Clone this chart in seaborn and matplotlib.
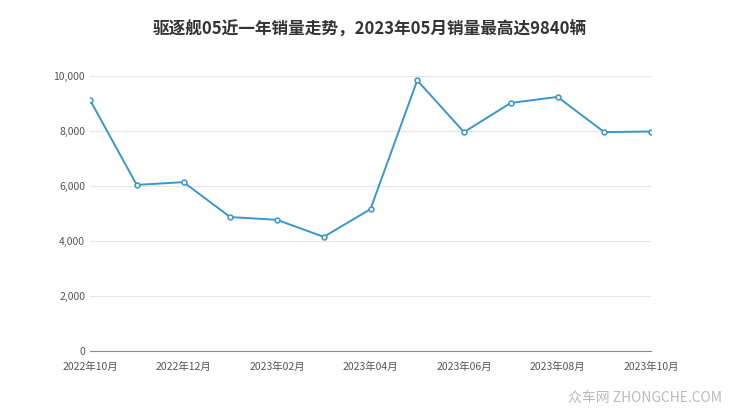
import matplotlib
matplotlib.use('Agg')
import matplotlib.pyplot as plt
import seaborn as sns
import pandas as pd
from matplotlib.ticker import StrMethodFormatter

months = ['2022年10月', '2022年11月', '2022年12月', '2023年01月', '2023年02月', '2023年03月',
          '2023年04月', '2023年05月', '2023年06月', '2023年07月', '2023年08月', '2023年09月', '2023年10月']
sales = [9130, 6040, 6140, 4870, 4770, 4150, 5160, 9840, 7960, 9020, 9240, 7960, 7980]

df = pd.DataFrame({'x': range(len(months)), 'sales': sales})

sns.set_style("white")
plt.rcParams['font.family'] = ['Noto Sans CJK SC', 'DejaVu Sans']

fig = plt.figure(figsize=(7.4, 4.17), dpi=100)
ax = fig.add_axes([90/740, 1-351/417, 561/740, 275/417])

sns.lineplot(data=df, x='x', y='sales', ax=ax, color='#3a97c9', linewidth=1.4,
             marker='o', markersize=3.5, markerfacecolor='white', markeredgecolor='#3a97c9',
             markeredgewidth=1.1)

ax.set_xlim(0, len(months) - 1)
ax.set_ylim(0, 10000)
ax.set_yticks(range(0, 10001, 2000))
ax.yaxis.set_major_formatter(StrMethodFormatter('{x:,.0f}'))
ax.set_xticks(range(0, len(months), 2))
ax.set_xticklabels(months[::2])
ax.grid(axis='y', color='#e6e6e6', linewidth=0.8)
ax.tick_params(axis='both', labelsize=7.5, colors='#555555', length=0)
ax.tick_params(axis='x', length=4, color='#888888')
for s in ['top', 'right', 'left']:
    ax.spines[s].set_visible(False)
ax.spines['bottom'].set_color('#888888')
ax.set_xlabel('')
ax.set_ylabel('')

fig.text(0.5, 1-30/417, '驱逐舰05近一年销量走势，2023年05月销量最高达9840辆',
         ha='center', va='center', fontsize=12, fontweight='bold', color='#333333')
fig.text(0.975, 1-398/417, '众车网 ZHONGCHE.COM', ha='right', va='center',
         fontsize=10, color='#bbbbbb')

fig.savefig('out.png', dpi=100)
